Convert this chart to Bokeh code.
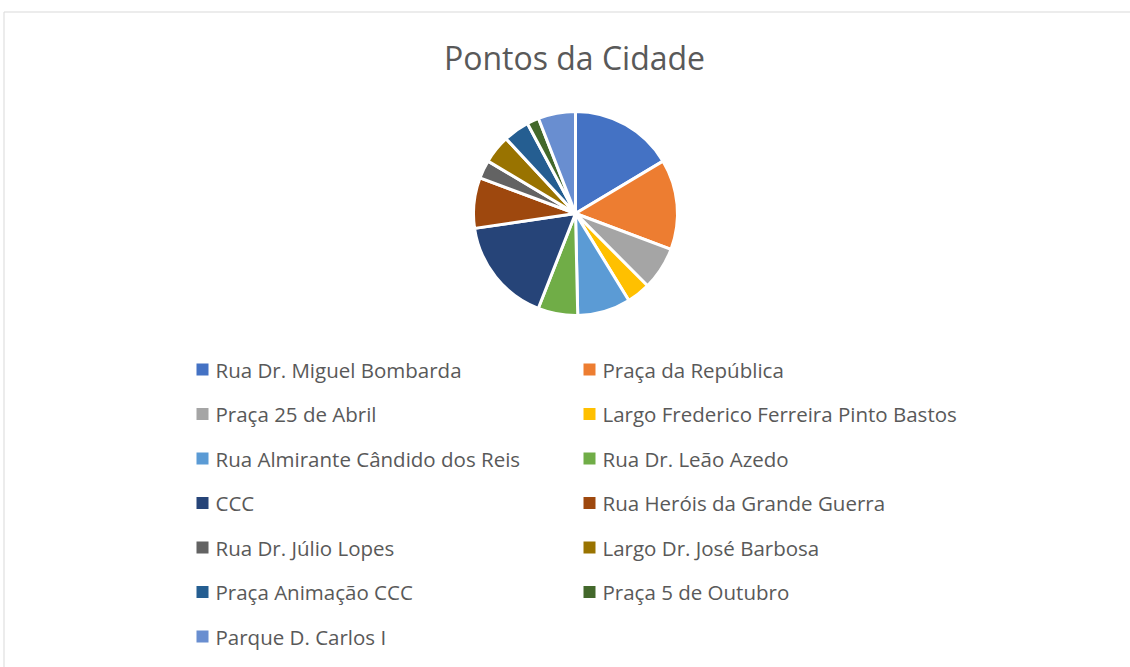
import math
from bokeh.plotting import figure
from bokeh.models import ColumnDataSource, Range1d
from bokeh.core.properties import value
from bokeh.embed import file_html
from bokeh.resources import INLINE

categories = ["Rua Dr. Miguel Bombarda", "Praça da República", "Praça 25 de Abril",
              "Largo Frederico Ferreira Pinto Bastos", "Rua Almirante Cândido dos Reis",
              "Rua Dr. Leão Azedo", "CCC", "Rua Heróis da Grande Guerra",
              "Rua Dr. Júlio Lopes", "Largo Dr. José Barbosa", "Praça Animação CCC",
              "Praça 5 de Outubro", "Parque D. Carlos I"]
values = [16.4, 14.3, 6.8, 3.7, 8.4, 6.3, 16.7, 8.0, 2.9, 4.5, 4.1, 1.9, 5.9]
colors = ["#4472C4", "#ED7D31", "#A5A5A5", "#FFC000", "#5B9BD5", "#70AD47", "#264478",
          "#9E480E", "#636363", "#997300", "#255E91", "#43682B", "#698ED0"]
title = "Pontos da Cidade"

W, H = 1130, 667
p = figure(width=W, height=H, output_backend="svg", toolbar_location=None,
           x_range=Range1d(0, W), y_range=Range1d(0, H), min_border=0)
p.axis.visible = False
p.grid.visible = False
p.outline_line_color = None
p.background_fill_color = "white"
p.border_fill_color = "white"

# chart area border
p.quad(left=[3.5], right=[1140], top=[H - 11.5], bottom=[-10], fill_color=None,
       line_color="#d9d9d9", line_width=1)

# title
p.text(x=[574], y=[H - 57], text=[title], text_align="center", text_baseline="middle",
       text_font=value("Open Sans"), text_font_size="32px", text_color="#595959")

# pie
total = sum(values)
starts, ends = [], []
acc = 0.0
for v in values:
    a0 = math.pi / 2 - 2 * math.pi * acc / total
    acc += v
    a1 = math.pi / 2 - 2 * math.pi * acc / total
    starts.append(a0)
    ends.append(a1)
src = ColumnDataSource(dict(start=starts, end=ends, color=colors, cat=categories))
p.wedge(x=575, y=H - 213, radius=102, radius_units="screen", start_angle="start",
        end_angle="end", direction="clock", fill_color="color", line_color="white",
        line_width=3, source=src)

# legend
col_x = [196, 583]
row_y0, row_dy = 369, 44.5
lx, ly, ltx = [], [], []
for i, c in enumerate(categories):
    col = i % 2
    row = i // 2
    lx.append(col_x[col] + 6)
    ly.append(H - (row_y0 + row * row_dy))
    ltx.append(col_x[col] + 19)
lsrc = ColumnDataSource(dict(x=lx, y=ly, tx=ltx, color=colors, cat=categories))
p.scatter(x="x", y="y", marker="square", size=12, fill_color="color", line_color=None,
          source=lsrc)
p.text(x="tx", y="y", text="cat", text_align="left", text_baseline="middle",
       text_font=value("Open Sans"), text_font_size="20.5px", text_color="#595959",
       source=lsrc)

open("out.html", "w").write(file_html(p, INLINE))
